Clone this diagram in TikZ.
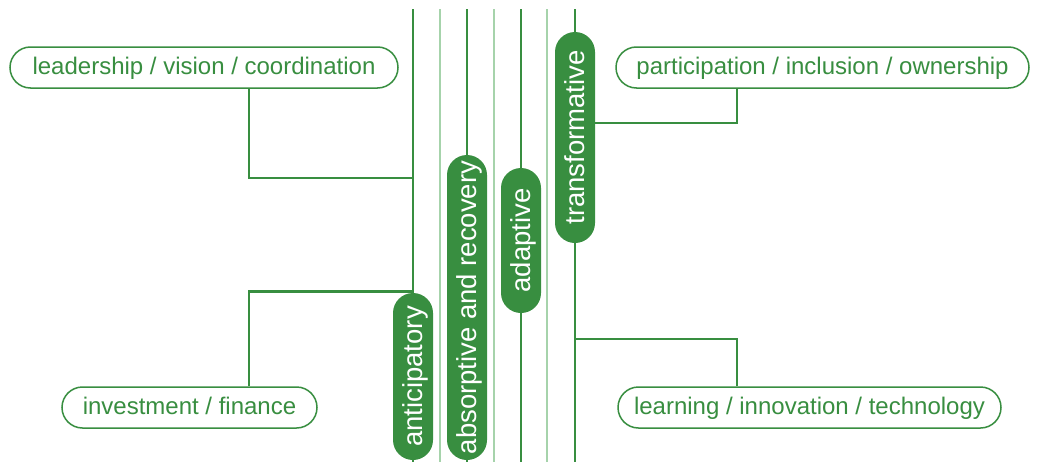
\documentclass[tikz,border=0pt]{standalone}
\usepackage{fontspec}
\setmainfont{Liberation Sans}
\definecolor{capgreen}{RGB}{56,142,64}
\definecolor{capmint}{RGB}{166,211,171}
\tikzset{every picture/.style={line width=2.6pt}}
\tikzset{
  capline/.style={draw=capgreen, line width=2.6pt},
  mintline/.style={draw=capmint, line width=2.6pt},
  link/.style={draw=capgreen, line width=2.5pt},
  capacity/.style={fill=capgreen, draw=none, text=white, rotate=90,
    minimum height=40pt, rounded corners=20pt, inner sep=0pt,
    font=\fontsize{27.5}{30}\selectfont, text height=20pt, text depth=1pt},
  factor/.style={fill=white, draw=capgreen, line width=1.5pt, text=capgreen,
    minimum height=41pt, rounded corners=20.5pt, inner sep=0pt,
    font=\fontsize{24}{28}\selectfont, text height=17pt, text depth=3.4pt}
}

\begin{document}
\begin{tikzpicture}[x=1pt,y=1pt,yscale=-1,xscale=1]
\useasboundingbox (0,0) rectangle (1039,463);

%Straight Lines
\draw[mintline] (440,9) -- (440,462);
\draw[mintline] (494,9) -- (494,462);
\draw[mintline] (547,9) -- (547,462);
%Straight Lines
\draw[capline] (413,9) -- (413,462);
\draw[capline] (467,9) -- (467,462);
\draw[capline] (521,9) -- (521,462);
\draw[capline] (575,9) -- (575,462);

% Capacity Pills
\node[capacity, minimum width=167pt] (anti) at (413,376.5) {anticipatory};
\node[capacity, minimum width=305pt] (absorb) at (467,307.5) {absorptive and recovery};
\node[capacity, minimum width=145pt] (adapt) at (521,240.5) {adaptive};
\node[capacity, minimum width=211pt] (trans) at (575,137.5) {transformative};

% Junctions
\coordinate (leadX) at (249,0);
\coordinate (leadJ) at (413,178);
\coordinate (partX) at (737,0);
\coordinate (partJ) at (595,123);
\coordinate (learnX) at (737,0);
\coordinate (learnJ) at (575,339);

% Factor Boxes
\node[factor, minimum width=388pt] (lead) at (204,67.5) {leadership / vision / coordination};
\node[factor, minimum width=413pt] (part) at (822.5,67.5) {participation / inclusion / ownership};
\node[factor, minimum width=255pt] (invest) at (189.5,407.5) {investment / finance};
\node[factor, minimum width=383pt] (learn) at (809.5,407.5) {learning / innovation / technology};

% Connectors
\draw[link] (lead.south -| leadX) |- (leadJ);
\draw[link] (invest.north -| leadX) |- (anti.east);
\draw[link] (part.south -| partX) |- (partJ);
\draw[link] (learn.north -| learnX) |- (learnJ);

\end{tikzpicture}
\end{document}
